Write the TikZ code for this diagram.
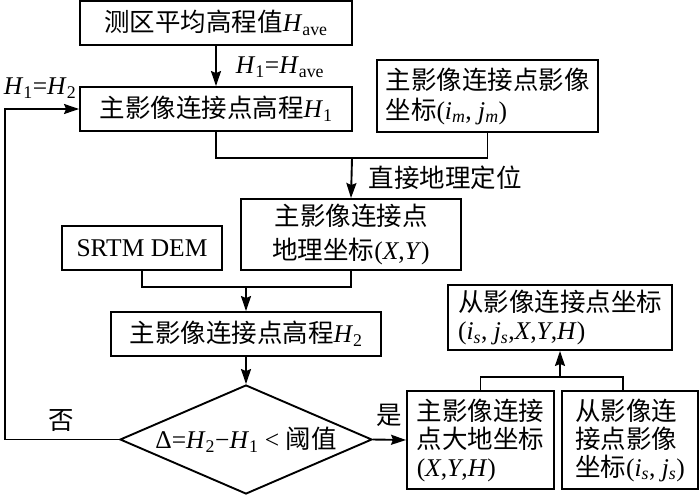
\documentclass[tikz,border=0pt]{standalone}
\usepackage{fontspec}
\setmainfont{Liberation Serif}
\newfontfamily\cjk{Noto Sans CJK SC}
\usetikzlibrary{arrows.meta,shapes.geometric,calc}
\newcommand\zh[1]{{\cjk #1}}
\newcommand\iv[1]{\textit{#1}}
\newcommand\sbs[1]{\textsubscript{#1}}
\begin{document}
\begin{tikzpicture}[x=1pt,y=-1pt,line width=1.9pt,
  box/.style={draw,inner sep=0pt,font={\fontsize{25.5}{30}\selectfont}},
  lbl/.style={inner sep=0pt,font={\fontsize{25.5}{30}\selectfont}},
  arr/.style={-{Stealth[length=15pt,width=10pt,inset=2pt]}}]
\useasboundingbox (0,0) rectangle (700,496);
\node[box,minimum width=272,minimum height=44] (b1) at (216,23) {\zh{测区平均高程值}\iv{H}\sbs{ave}};
\node[box,minimum width=272,minimum height=44] (b2) at (216,109) {\zh{主影像连接点高程}\iv{H}\sbs{1}};
\node[box,minimum width=221,minimum height=72,align=left] (b3) at (487.5,96) {\zh{主影像连接点影像}\\\zh{坐标}(\iv{i}\sbs{\iv{m}}, \iv{j}\sbs{\iv{m}})};
\node[box,minimum width=220,minimum height=71,align=center,font={\fontsize{25.5}{34}\selectfont}] (b4) at (351,234.5) {\zh{主影像连接点}\\\zh{地理坐标}(\iv{X},\iv{Y})};
\node[box,minimum width=160,minimum height=44] (srtm) at (142,248) {SRTM DEM};
\node[box,minimum width=270,minimum height=44] (b5) at (246,334) {\zh{主影像连接点高程}\iv{H}\sbs{2}};
\node[box,shape=diamond,aspect=2.29,minimum width=252,minimum height=109] (d) at (246,439.5) {Δ=\iv{H}\sbs{2}−\iv{H}\sbs{1} {<} \zh{阈值}};
\node[box,minimum width=147,minimum height=98,align=left,font={\fontsize{25.5}{28}\selectfont}] (b6) at (480.5,440) {\zh{主影像连接}\\\zh{点大地坐标}\\(\iv{X},\iv{Y},\iv{H})};
\node[box,minimum width=136,minimum height=98,align=left,font={\fontsize{25.5}{28}\selectfont}] (b7) at (630,440) {\zh{从影像连}\\\zh{接点影像}\\\zh{坐标}(\iv{i}\sbs{\iv{s}}, \iv{j}\sbs{\iv{s}})};
\node[box,minimum width=224,minimum height=65,align=left,font={\fontsize{25.5}{28}\selectfont}] (b8) at (560,317.5) {\zh{从影像连接点坐标}\\(\iv{i}\sbs{\iv{s}}, \iv{j}\sbs{\iv{s}},\iv{X},\iv{Y},\iv{H})};
\node[lbl] (l1) at (280,67) {\iv{H}\sbs{1}=\iv{H}\sbs{ave}};
\node[lbl] (l2) at (40,88) {\iv{H}\sbs{1}=\iv{H}\sbs{2}};
\node[lbl] (l3) at (445,178) {\zh{直接地理定位}};
\node[lbl] (l4) at (61,421) {\zh{否}};
\node[lbl] (l5) at (389,415) {\zh{是}};
\coordinate (fb) at (5,439.5);
\coordinate (j1) at (352,158);
\coordinate (j2) at (246,287);
\coordinate (j3) at (560,377);
\draw[arr] (b1.south) -- (b2.north);
\draw[arr] (d.west) -- (fb) |- (b2.west);
\draw (b2.south) |- (j1) -| (b3.south);
\draw[arr] (j1) -- (b4.north);
\draw (srtm.south) |- (j2) -| (b4.south);
\draw[arr] (j2) -- (b5.north);
\draw[arr] (b5.south) -- (d.north);
\draw[arr] (d.east) -- (b6.west);
\draw (b6.north) |- (j3) -| ([xshift=-7pt]b7.north);
\draw[arr] (j3) -- (b8.south);
\end{tikzpicture}
\end{document}
